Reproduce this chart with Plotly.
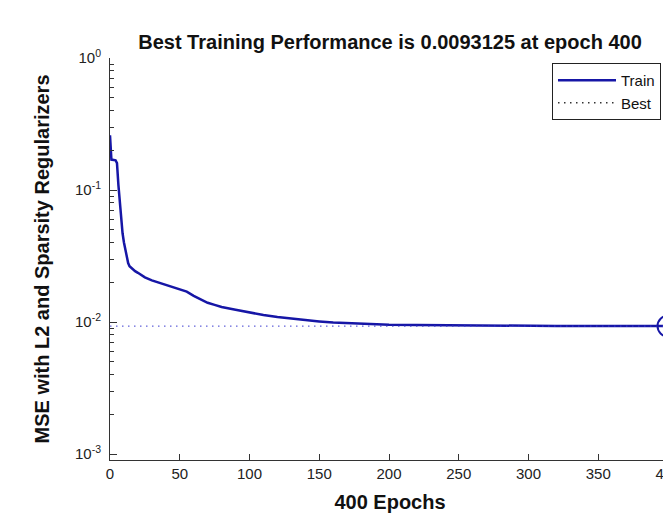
import plotly.graph_objects as go

# ---- data ----
epochs = [0, 1, 4, 5, 6, 7, 8, 9, 10, 11, 12, 13, 14, 16, 18, 20, 25, 30, 35, 40, 45,
          50, 55, 60, 65, 70, 75, 80, 90, 100, 110, 120, 130, 140, 150, 160, 170, 180,
          190, 200, 220, 240, 260, 280, 300, 320, 340, 360, 380, 400]
train_perf = [0.26, 0.17, 0.168, 0.16, 0.11, 0.08, 0.058, 0.047, 0.040, 0.035, 0.031,
              0.028, 0.0265, 0.0253, 0.0243, 0.0236, 0.0218, 0.0207, 0.0199, 0.0192,
              0.0186, 0.0179, 0.0170, 0.0158, 0.0148, 0.0140, 0.0135, 0.0130, 0.0124,
              0.0118, 0.0113, 0.0109, 0.0106, 0.0103, 0.0101, 0.0099, 0.0098, 0.0097,
              0.0096, 0.00955, 0.0095, 0.00945, 0.0094, 0.00937, 0.00935, 0.00934,
              0.00933, 0.00932, 0.00932, 0.0093125]
best_epoch = 400
best_perf = 0.0093125
x_range = [0, 401.43]
y_log_range = [-3.045, 0.0]
best_line_x = [0, 400]

x_tickvals = [0, 50, 100, 150, 200, 250, 300, 350, 400]
x_ticktext = ["0", "50", "100", "150", "200", "250", "300", "350", "400"]
y_tickvals = [1e-3, 1e-2, 1e-1, 1e0]
y_ticktext = ["10<sup>-3</sup>", "10<sup>-2</sup>", "10<sup>-1</sup>", "10<sup>0</sup>"]
y_minor = [m * 10.0 ** e for e in (-3, -2, -1) for m in range(2, 10)]

title_text = "Best Training Performance is 0.0093125 at epoch 400"
x_title = "400 Epochs"
y_title = "MSE with L2 and Sparsity Regularizers"

TRAIN_COLOR = "#1616a6"
FONT = "Liberation Sans"

# the page body adds an 8px margin, so the figure is offset by 8px
W, H = 663, 505
ML, MR, MT, MB = 102, 1, 50, 53
PW, PH = W - ML - MR, H - MT - MB

fig = go.Figure()

fig.add_trace(go.Scatter(
    x=epochs, y=train_perf, mode="lines", name="Train",
    line=dict(color=TRAIN_COLOR, width=2.5)))

fig.add_trace(go.Scatter(
    x=[best_epoch, best_epoch], y=[10 ** y_log_range[0], 10 ** y_log_range[1]],
    mode="lines", name="Best",
    line=dict(color="#333333", width=1.5, dash="1.5px,4.5px")))

fig.add_trace(go.Scatter(
    x=best_line_x, y=[best_perf, best_perf], mode="lines", showlegend=False,
    line=dict(color="#3a3ad0", width=1, dash="1.5px,4.5px")))

fig.add_trace(go.Scatter(
    x=[best_epoch], y=[best_perf], mode="markers", showlegend=False,
    marker=dict(symbol="circle-open", size=21, color=TRAIN_COLOR,
                line=dict(width=2, color=TRAIN_COLOR)),
    cliponaxis=False))

axis_color = "#333333"

fig.update_layout(
    width=W, height=H,
    margin=dict(l=ML, r=MR, t=MT, b=MB, autoexpand=False),
    paper_bgcolor="white", plot_bgcolor="white",
    font=dict(family=FONT, size=15, color="#222222"),
    title=dict(text=title_text, x=0.5, xref="paper", xanchor="center",
               y=1 - 34 / H, yref="container", yanchor="middle",
               font=dict(family=FONT, size=20, weight="bold", color="#111111")),
    showlegend=True,
    legend=dict(x=(653 - ML) / PW, xanchor="right", y=(PH - 5) / PH, yanchor="top",
                bgcolor="white", bordercolor="#222222", borderwidth=1,
                font=dict(family=FONT, size=15, color="#111111"),
                itemwidth=58, tracegroupgap=2),
)

fig.update_xaxes(
    range=x_range, tickmode="array", tickvals=x_tickvals, ticktext=x_ticktext,
    ticks="inside", ticklen=6, tickcolor=axis_color, tickwidth=1,
    showline=True, linecolor=axis_color, linewidth=1, mirror=False,
    showgrid=False, zeroline=False, automargin=False, ticklabeloverflow="allow",
    tickfont=dict(family=FONT, size=15, color="#222222"),
    title=dict(text=x_title, standoff=13,
               font=dict(family=FONT, size=20, weight="bold", color="#111111")),
)

fig.update_yaxes(
    type="log", range=y_log_range, tickmode="array",
    tickvals=y_tickvals, ticktext=y_ticktext,
    ticks="inside", ticklen=7, tickcolor=axis_color, tickwidth=1,
    minor=dict(tickmode="array", tickvals=y_minor, ticks="inside", ticklen=4,
               tickcolor=axis_color, showgrid=False),
    showline=True, linecolor=axis_color, linewidth=1, mirror=False,
    showgrid=False, zeroline=False, automargin=False, ticklabelstandoff=5,
    tickfont=dict(family=FONT, size=15, color="#222222"),
    title=dict(text=y_title, standoff=19,
               font=dict(family=FONT, size=20, weight="bold", color="#111111")),
)

fig.write_html("out.html")
